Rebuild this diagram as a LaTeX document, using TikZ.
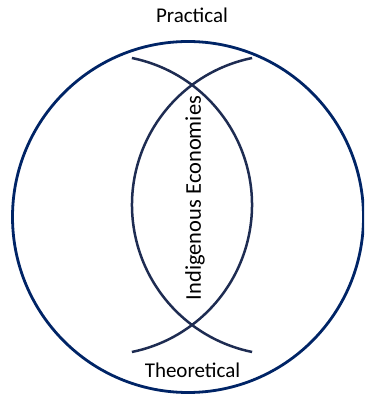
\documentclass[tikz,border=0pt]{standalone}
\usepackage{fontspec}
\setmainfont{Carlito}
\usepackage{xcolor}
\usetikzlibrary{positioning}
\definecolor{ringblue}{RGB}{0,36,102}
\definecolor{lensblue}{RGB}{30,44,82}

\begin{document}
\begin{tikzpicture}[
  x=1pt,y=1pt,
  ring/.style={draw=ringblue,line width=2.8pt},
  lens/.style={draw=lensblue,line width=2.5pt},
  every node/.style={font=\fontsize{21}{24}\selectfont,inner sep=0pt}
]
  \useasboundingbox (0,0) rectangle (364,396);
  \clip (0,0) rectangle (364,396);
  \coordinate (c) at (188,179);
  \draw[ring] (c) circle[radius=175.5];
  % the two crossing arcs
  \draw[lens] (102,191) ++(78.5:150) arc[start angle=78.5,end angle=-78.5,radius=150];
  \draw[lens] (282,191) ++(101.5:150) arc[start angle=101.5,end angle=258.5,radius=150];
  \node (prac) at (192,381) {Practical};
  \node (theo) at (192.5,26) {Theoretical};
  \node[rotate=90,font=\fontsize{22.5}{26}\selectfont] (indig) at (195,198) {Indigenous Economies};
\end{tikzpicture}
\end{document}
